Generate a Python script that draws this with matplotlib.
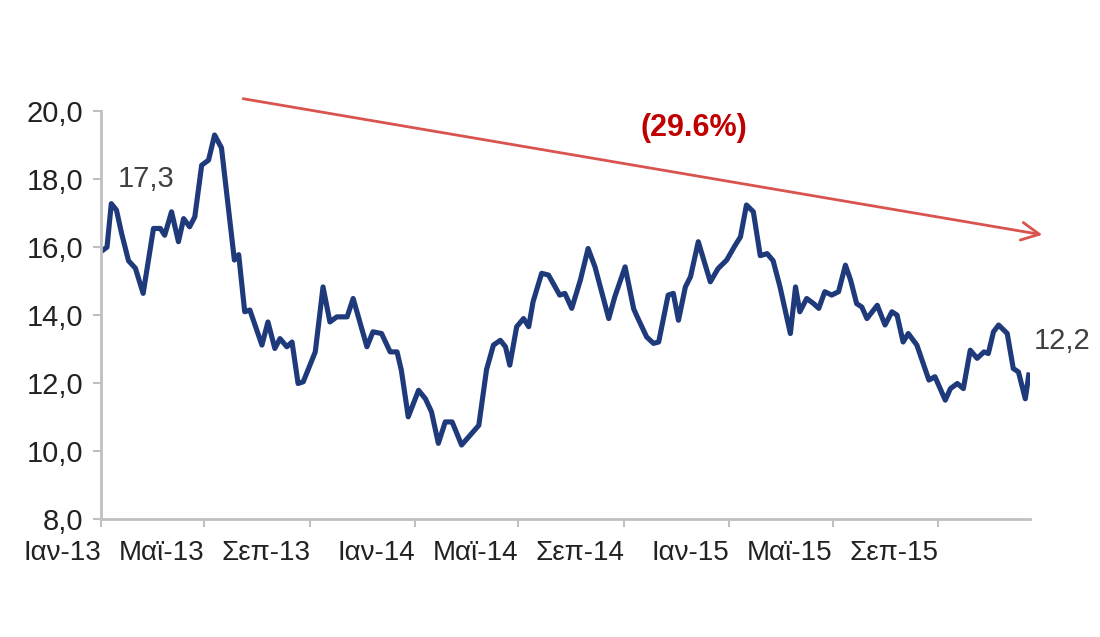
import pandas as pd
import matplotlib.pyplot as plt
from matplotlib.ticker import FuncFormatter

plt.rcParams['font.family'] = ['Liberation Sans', 'DejaVu Sans']

# Days since 1 Jan 2013 and the series value
start = pd.Timestamp('2013-01-01')
day_offsets = [0, 7, 12, 18, 24, 32, 40, 49, 61, 69, 74, 82, 90, 96, 103, 109, 117, 125, 132, 140,
               155, 160, 167, 173, 187, 194, 202, 208, 216, 222, 229, 235, 249, 258, 266, 274, 286, 293, 309, 316,
               326, 336, 344, 349, 357, 369, 377, 384, 392, 400, 408, 419, 429, 439, 448, 456, 464, 470, 475, 483,
               491, 497, 502, 512, 520, 533, 539, 547, 557, 566, 574, 590, 597, 609, 619, 624, 634, 642, 648, 659,
               665, 671, 679, 685, 694, 708, 717, 727, 737, 743, 750, 758, 766, 774, 781, 789, 801, 807, 812, 820,
               828, 834, 841, 849, 857, 865, 871, 878, 884, 890, 902, 911, 919, 925, 932, 938, 948, 962, 969, 981,
               987, 995, 1002, 1010, 1018, 1026, 1031, 1037, 1043, 1053, 1060, 1066, 1074, 1078]
values = [15.87, 16.0, 17.28, 17.09, 16.4, 15.6, 15.38, 14.64, 16.55, 16.55, 16.35, 17.04, 16.16, 16.84, 16.6,
          16.89, 18.41, 18.56, 19.3, 18.92,
          15.62, 15.78, 14.1, 14.15, 13.12, 13.8, 13.02, 13.31, 13.07, 13.21, 11.99, 12.04, 12.92, 14.83, 13.8,
          13.95, 13.95, 14.49, 13.07, 13.51,
          13.46, 12.92, 12.92, 12.38, 11.01, 11.79, 11.54, 11.16, 10.23, 10.86, 10.86, 10.18, 10.47, 10.76, 12.4,
          13.12, 13.26, 13.07, 12.53, 13.66,
          13.9, 13.66, 14.39, 15.23, 15.18, 14.59, 14.64, 14.2, 15.03, 15.96, 15.42, 13.9, 14.54, 15.42, 14.18,
          13.9, 13.36, 13.17, 13.21, 14.59,
          14.64, 13.85, 14.83, 15.13, 16.16, 14.98, 15.37, 15.62, 16.06, 16.3, 17.24, 17.04, 15.75, 15.81, 15.6,
          14.83, 13.46, 14.83, 14.1, 14.49,
          14.34, 14.2, 14.69, 14.59, 14.69, 15.47, 15.03, 14.34, 14.24, 13.9, 14.29, 13.71, 14.1, 14.0, 13.21,
          13.46, 13.12, 12.09, 12.19, 11.5,
          11.84, 11.99, 11.84, 12.97, 12.73, 12.92, 12.87, 13.51, 13.71, 13.46, 12.43, 12.33, 11.54, 12.24]
dates = start + pd.to_timedelta(day_offsets, unit='D')

tick_dates = pd.to_datetime(['2013-01-01', '2013-05-01', '2013-09-01', '2014-01-01', '2014-05-01',
                             '2014-09-01', '2015-01-01', '2015-05-01', '2015-09-01'])
tick_labels = ['Ιαν-13', 'Μαϊ-13', 'Σεπ-13', 'Ιαν-14', 'Μαϊ-14', 'Σεπ-14', 'Ιαν-15', 'Μαϊ-15', 'Σεπ-15']

first_label = '17,3'
last_label = '12,2'
change_label = '(29.6%)'

fig = plt.figure(figsize=(11, 6.37), dpi=100)
ax = fig.add_axes([0.0918, 0.185, 0.845, 0.6405])

ax.plot(dates, values, color='#1f3a7a', lw=3.7, solid_joinstyle='round')

ax.set_ylim(8, 20)
ax.set_yticks(range(8, 21, 2))
ax.yaxis.set_major_formatter(FuncFormatter(lambda v, p: f'{v:.1f}'.replace('.', ',')))
ax.set_xlim(start, start + pd.Timedelta(days=1080))
ax.set_xticks(tick_dates)
ax.set_xticklabels(tick_labels, ha='right')

for s in ['top', 'right']:
    ax.spines[s].set_visible(False)
for s in ['left', 'bottom']:
    ax.spines[s].set_color('#c0c0c0')
    ax.spines[s].set_linewidth(2)
ax.tick_params(axis='both', colors='#c0c0c0', width=1.5, length=6, labelcolor='#222222')
ax.tick_params(axis='x', pad=9, labelsize=20)
ax.tick_params(axis='y', pad=7, labelsize=21)

# labels for first and last values
ax.text(start + pd.Timedelta(days=52), 18.0, first_label, fontsize=21, color='#404040',
        ha='center', va='center')
ax.text(start + pd.Timedelta(days=1117), 13.24, last_label, fontsize=21, color='#404040',
        ha='center', va='center')

# trend arrow
ax.annotate('', xy=(start + pd.Timedelta(days=1097), 16.35), xytext=(start + pd.Timedelta(days=162), 20.38),
            arrowprops=dict(arrowstyle='->', color='#d9534f', lw=2, mutation_scale=32),
            annotation_clip=False)
ax.text(start + pd.Timedelta(days=689), 19.5, change_label, fontsize=22, fontweight='bold',
        color='#c00000', ha='center', va='center')

fig.savefig('out.png', dpi=100)
